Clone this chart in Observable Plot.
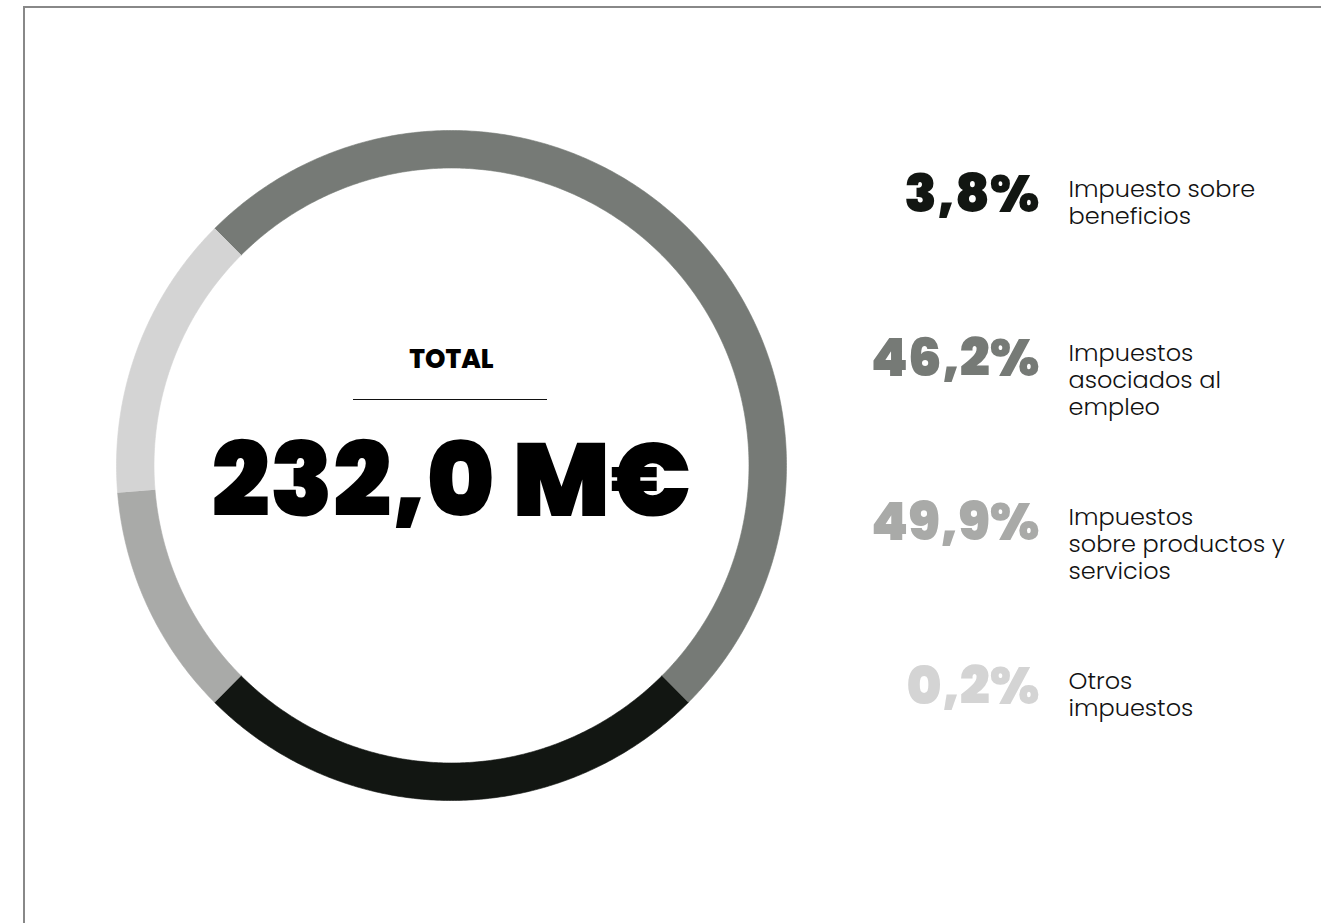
<!DOCTYPE html>
<html><head><meta charset="utf-8">
<script src="https://cdn.jsdelivr.net/npm/d3@7"></script>
<script src="https://cdn.jsdelivr.net/npm/@observablehq/plot@0.6"></script>
<style>
html,body{margin:0;padding:0;background:#fff;}
#wrap{position:relative;width:1321px;height:923px;overflow:hidden;}
#frame{position:absolute;left:23px;top:6px;right:-10px;bottom:-10px;border-top:2px solid #888;border-left:2px solid #888;pointer-events:none;}
</style></head><body><div id="wrap"><div id="chart"></div><div id="frame"></div></div>
<script>
// ---- data ----
const categories = ["Impuesto sobre\nbeneficios", "Impuestos\nasociados al\nempleo", "Impuestos\nsobre productos y\nservicios", "Otros\nimpuestos"];
const shareLabels = ["3,8%", "46,2%", "49,9%", "0,2%"];
const colors = ["#121612", "#767a76", "#a9aaa8", "#d4d4d4"];
// ring as drawn in the picture, clockwise, starting at the top-left
const ringCategoryIndex = [1, 0, 2, 3];
const ringArcShare = [50.0, 25.0, 11.2, 13.8]; // % of the circle each arc covers
const totalLabel = "TOTAL";
const totalValue = "232,0 M€";

// ---- layout ----
const W = 1321, H = 923, cx = 451, cy = 465, R = 335, innerFrac = 0.888, startDeg = -45;
const X = px => (px - cx) / R, Y = py => (py - cy) / R;

const arcs = [];
let acc = startDeg;
ringArcShare.forEach((s, k) => {
  const a0 = acc, a1 = acc + s * 3.6; acc = a1;
  const pts = [];
  const n = Math.max(2, Math.ceil((a1 - a0) / 0.5));
  for (let j = 0; j <= n; j++) { const t = (a0 + (a1 - a0) * j / n) * Math.PI / 180; pts.push({x: Math.sin(t), y: -Math.cos(t)}); }
  for (let j = n; j >= 0; j--) { const t = (a0 + (a1 - a0) * j / n) * Math.PI / 180; pts.push({x: innerFrac * Math.sin(t), y: -innerFrac * Math.cos(t)}); }
  arcs.push({pts, color: colors[ringCategoryIndex[k]]});
});

const legend = categories.map((c, i) => ({label: c, pct: shareLabels[i], color: colors[i], i}));
const pctBase = 211, labBase = 194, legStep = 164;
const pctSize = 53, labSize = 24, totSize = 26, bigSize = 103;

const bigFont = "Poppins, Inter, Lato, sans-serif";
const lightFont = "Poppins, 'Open Sans', Lato, sans-serif";

const chart = Plot.plot({
  width: W, height: H, margin: 0,
  x: {domain: [X(0), X(W)], range: [0, W], axis: null},
  y: {domain: [Y(0), Y(H)], range: [0, H], axis: null},
  style: {background: "transparent"},
  marks: [
    ...arcs.map(a => Plot.line(a.pts, {x: "x", y: "y", fill: a.color, stroke: a.color, strokeWidth: 0.6, curve: "linear"})),
    Plot.text([totalLabel], {x: () => 0, y: () => 0, dy: 367 - 0.71 * totSize - cy, lineAnchor: "top", text: d => d,
      fontFamily: bigFont, fontWeight: 800, fontSize: totSize, fill: "#000"}),
    Plot.ruleY([0], {x1: X(353), x2: X(547), dy: 399 - cy, stroke: "#111", strokeWidth: 1}),
    Plot.text([totalValue], {x: () => 0, y: () => 0, dy: 515 - 0.71 * bigSize - cy, lineAnchor: "top", text: d => d,
      fontFamily: bigFont, fontWeight: 900, fontSize: bigSize, fill: "#000"}),
    Plot.text(legend, {x: () => X(1039), y: d => Y(pctBase - 0.71 * pctSize + d.i * legStep), text: "pct", fill: "color",
      textAnchor: "end", lineAnchor: "top", fontFamily: bigFont, fontWeight: 900, fontSize: pctSize}),
    Plot.text(legend, {x: () => X(1068), y: d => Y(labBase - 0.71 * labSize + d.i * legStep), text: "label", fill: "#111",
      textAnchor: "start", lineAnchor: "top", lineHeight: 1.13, fontFamily: lightFont, fontWeight: 300, fontSize: labSize})
  ]
});
document.getElementById("chart").appendChild(chart);
</script></body></html>
